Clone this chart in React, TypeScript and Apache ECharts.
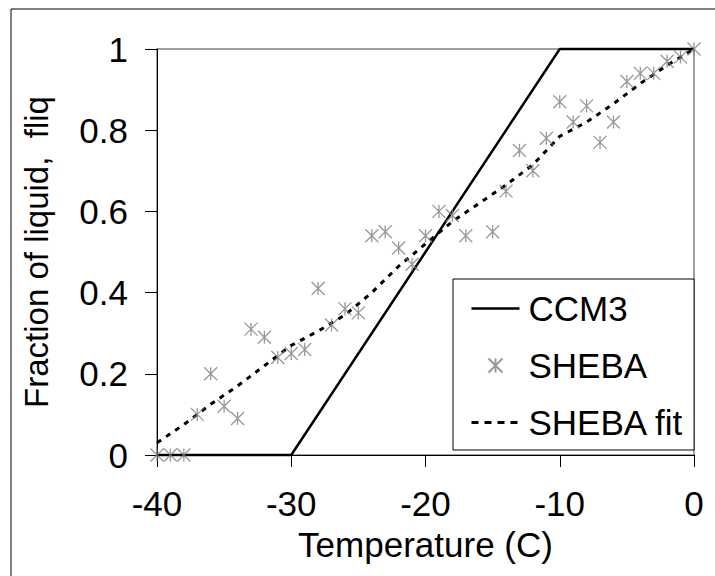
import React, { useEffect, useRef } from "react";
import * as echarts from "echarts";

const sheebaTemps = [-40, -39, -38, -37, -36, -35, -34, -33, -32, -31, -30, -29, -28, -27, -26, -25, -24, -23, -22, -21, -20, -19, -18, -17, -15, -14, -13, -12, -11, -10, -9, -8, -7, -6, -5, -4, -3, -2, -1, 0];
const sheebaFliq = [0, 0, 0, 0.10, 0.20, 0.12, 0.09, 0.31, 0.29, 0.24, 0.25, 0.26, 0.41, 0.32, 0.36, 0.35, 0.54, 0.55, 0.51, 0.47, 0.54, 0.60, 0.59, 0.54, 0.55, 0.65, 0.75, 0.70, 0.78, 0.87, 0.82, 0.86, 0.77, 0.82, 0.92, 0.94, 0.94, 0.97, 0.98, 1.0];

const fitTemps = [-40, -38, -36, -34, -32, -30, -28, -26, -24, -22, -20, -18, -16, -14, -12, -10, -8, -6, -4, -2, 0];
const fitFliq = [0.03, 0.075, 0.125, 0.17, 0.22, 0.27, 0.305, 0.345, 0.40, 0.465, 0.52, 0.575, 0.62, 0.665, 0.715, 0.785, 0.82, 0.865, 0.915, 0.96, 1.0];

const ccm3Temps = [-40, -30, -10, 0];
const ccm3Fliq = [0, 0, 1, 1];

const FONT = "'Liberation Sans', Arial, sans-serif";
const STAR = "path://M0,0L10,10M10,0L0,10M5,0L5,10";
const FS = 35;

export default function App() {
  const ref = useRef<HTMLDivElement>(null);
  useEffect(() => {
    if (!ref.current) return;
    const chart = echarts.init(ref.current, undefined, { renderer: "svg" });
    chart.setOption({
      animation: false,
      backgroundColor: "#fff",
      grid: {
        left: 157,
        right: 21,
        top: 49,
        bottom: 121,
        show: true,
        borderColor: "#808080",
        borderWidth: 1.5,
        backgroundColor: "transparent",
      },
      xAxis: {
        type: "value",
        min: -40,
        max: 0,
        interval: 10,
        name: "Temperature (C)",
        nameLocation: "middle",
        nameGap: 72,
        nameTextStyle: { fontSize: FS, fontFamily: FONT, color: "#000", lineHeight: FS },
        axisLine: { show: true, onZero: false, lineStyle: { color: "#000", width: 1 } },
        axisTick: { show: true, inside: false, length: 12, lineStyle: { color: "#000" } },
        axisLabel: { fontSize: FS, fontFamily: FONT, color: "#000", margin: 31, lineHeight: FS },
        splitLine: { show: false },
      },
      yAxis: {
        type: "value",
        min: 0,
        max: 1,
        interval: 0.2,
        name: "Fraction of liquid,  fliq",
        nameLocation: "middle",
        nameGap: 104,
        nameTextStyle: { fontSize: 33, fontFamily: FONT, color: "#000", lineHeight: 33 },
        axisLine: { show: true, onZero: false, lineStyle: { color: "#000", width: 1 } },
        axisTick: { show: true, inside: false, length: 12, lineStyle: { color: "#000" } },
        axisLabel: { fontSize: FS, fontFamily: FONT, color: "#000", margin: 29, lineHeight: FS },
        splitLine: { show: false },
      },
      legend: {
        orient: "vertical",
        left: 453,
        top: 279,
        itemWidth: 48,
        itemHeight: 14,
        itemGap: 22,
        padding: [12, 10, 10, 17],
        borderColor: "#000",
        borderWidth: 1,
        backgroundColor: "#fff",
        z: 10,
        textStyle: { fontSize: FS, fontFamily: FONT, color: "#000", lineHeight: 34, padding: [0, 0, 0, 4] },
        data: [
          { name: "CCM3", itemStyle: { opacity: 0 }, lineStyle: { color: "#000", width: 2.5, type: "solid" } },
          { name: "SHEBA" },
          { name: "SHEBA fit", itemStyle: { opacity: 0 }, lineStyle: { color: "#000", width: 3, type: [7, 6] } },
        ],
      },
      graphic: [
        {
          type: "rect",
          shape: { x: 11, y: 9, width: 760, height: 620 },
          style: { fill: "none", stroke: "#000", lineWidth: 1 },
          silent: true,
        },
      ],
      series: [
        {
          name: "CCM3",
          type: "line",
          data: ccm3Temps.map((t, i) => [t, ccm3Fliq[i]]),
          symbol: "none",
          clip: false,
          lineStyle: { color: "#000", width: 2.5, type: "solid" },
          itemStyle: { color: "#000" },
          z: 3,
        },
        {
          name: "SHEBA fit",
          type: "line",
          data: fitTemps.map((t, i) => [t, fitFliq[i]]),
          symbol: "none",
          clip: false,
          lineStyle: { color: "#000", width: 3, type: [5, 6] },
          itemStyle: { color: "#000" },
          z: 3,
        },
        {
          name: "SHEBA",
          type: "scatter",
          data: sheebaTemps.map((t, i) => [t, sheebaFliq[i]]),
          symbol: STAR,
          symbolSize: 13,
          clip: false,
          itemStyle: { color: "transparent", borderColor: "#808080", borderWidth: 1.3 },
          z: 4,
        },
      ],
    });
    return () => chart.dispose();
  }, []);
  return (
    <div
      ref={ref}
      style={{ position: "fixed", left: 0, top: 0, width: 715, height: 576, background: "#fff" }}
    />
  );
}
